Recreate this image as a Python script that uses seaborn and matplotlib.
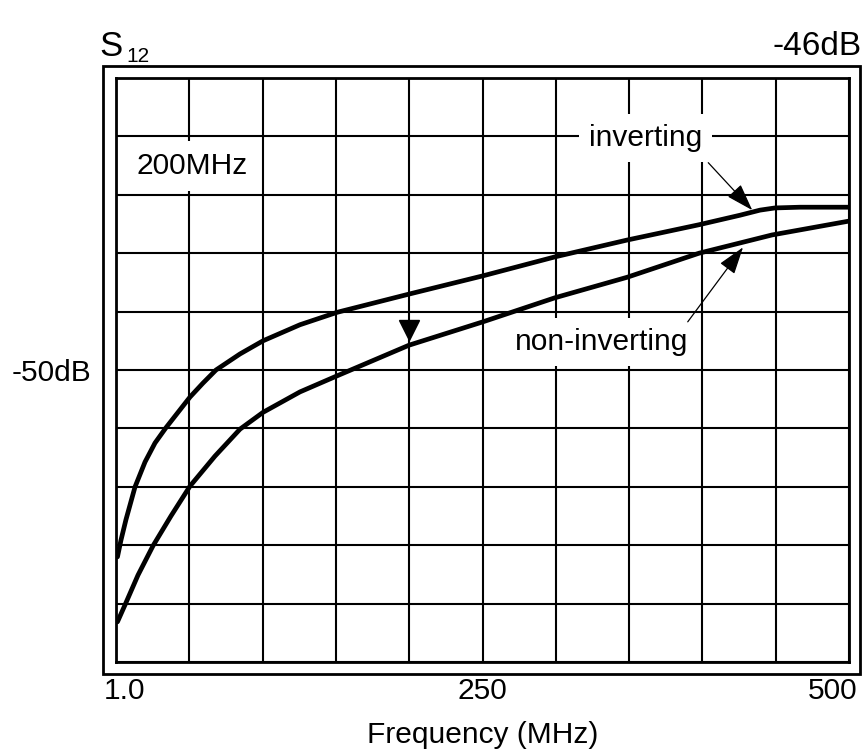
import matplotlib
matplotlib.use("Agg")
import matplotlib.pyplot as plt
import matplotlib.transforms as mtransforms
from matplotlib.patches import Rectangle
import pandas as pd
import seaborn as sns

# S12 curves (MHz, dB)
freq_inv = [1, 3.4, 6.8, 13, 19.8, 26.6, 34.1, 42.3, 50.5, 59.3, 68.2, 84.6, 100.3, 125.5,
            150.8, 199.9, 250.3, 299.5, 348.6, 397.7, 425.6, 439.3, 449.5, 466.6, 500]
s12_inv = [-52.56, -52.33, -52.05, -51.60, -51.26, -51.00, -50.79, -50.58, -50.37, -50.18,
           -50.00, -49.78, -49.60, -49.38, -49.21, -48.96, -48.71, -48.45, -48.22, -48.01,
           -47.88, -47.81, -47.78, -47.77, -47.77]

freq_non = [1, 6.1, 15, 25.2, 37.5, 50.5, 67.5, 84.6, 100.3, 125.5, 150.8, 199.9, 250.3,
            299.5, 348.6, 397.7, 447.5, 500]
s12_non = [-53.45, -53.22, -52.81, -52.41, -52.00, -51.59, -51.18, -50.81, -50.58, -50.30,
           -50.08, -49.66, -49.34, -49.01, -48.73, -48.40, -48.15, -47.96]

# 200 MHz marker on the non-inverting curve
marker_freq = [200]
marker_level = [-49.45]

freq_ticks = [0, 50, 100, 150, 200, 250, 300, 350, 400, 450, 500]
freq_labels = {0: "1.0", 250: "250", 500: "500"}
level_ticks = [-54.0, -53.2, -52.4, -51.6, -50.8, -50.0, -49.2, -48.4, -47.6, -46.8, -46.0]

sns.set_style("white")
plt.rcParams["font.family"] = ["Liberation Sans", "DejaVu Sans"]
plt.rcParams["text.color"] = "black"
plt.rcParams["xtick.color"] = "black"
plt.rcParams["ytick.color"] = "black"
plt.rcParams["axes.labelcolor"] = "black"

fig = plt.figure(figsize=(8.65, 7.55), dpi=100)
ax = fig.add_axes([116 / 865, 1 - 662 / 755, 733 / 865, 584 / 755])

df = pd.concat([
    pd.DataFrame({"freq": freq_inv, "s12": s12_inv, "mode": "inverting"}),
    pd.DataFrame({"freq": freq_non, "s12": s12_non, "mode": "non-inverting"}),
])
sns.lineplot(data=df, x="freq", y="s12", hue="mode", palette=["black", "black"],
             estimator=None, linewidth=3.4, legend=False, ax=ax)
for ln in ax.get_lines():
    ln.set_solid_joinstyle("round")
ax.plot(marker_freq, marker_level, marker="v", color="black", ms=14, ls="none", zorder=4)

ax.set_xlim(0, 500)
ax.set_ylim(-54, -46)
ax.set_xticks(freq_ticks, [freq_labels.get(t, "") for t in freq_ticks])
ax.set_yticks(level_ticks, ["-50dB" if abs(v + 50) < 1e-6 else "" for v in level_ticks])
ax.tick_params(axis="both", length=0, labelsize=21.5)
ax.tick_params(axis="x", pad=11)
ax.tick_params(axis="y", pad=18)
ax.grid(True, color="black", linewidth=1.5)
ax.set_axisbelow(True)
for s in ax.spines.values():
    s.set_color("black")
    s.set_linewidth(2)
ax.set_xlabel("Frequency (MHz)", fontsize=21.5, labelpad=11)
ax.set_ylabel("")

# nudge the end labels inwards like the original
shifts = {0: 9, 500: -16}
for t, lab in zip(freq_ticks, ax.get_xticklabels()):
    if t in shifts:
        off = mtransforms.ScaledTranslation(shifts[t] / 100, 0, fig.dpi_scale_trans)
        lab.set_transform(lab.get_transform() + off)

box = dict(facecolor="white", edgecolor="none", pad=7)
ax.text(361, -46.82, "inverting", ha="center", va="center", fontsize=21.5, bbox=box, zorder=5)
ax.text(331.5, -49.62, "non-inverting", ha="center", va="center", fontsize=21.5, bbox=box, zorder=5)
ax.text(52, -47.21, "200MHz", ha="center", va="center", fontsize=21.5,
        bbox=dict(facecolor="white", edgecolor="none", pad=8), zorder=5)

arrow = dict(arrowstyle="-|>,head_length=0.85,head_width=0.28", color="black",
             lw=0.9, mutation_scale=20, shrinkA=0, shrinkB=0)
ax.annotate("", xy=(434, -47.81), xytext=(404, -47.16), arrowprops=arrow, zorder=6)
ax.annotate("", xy=(427.7, -48.32), xytext=(390, -49.34), arrowprops=arrow, zorder=6)

# outer frame and header texts
fig.add_artist(Rectangle((103 / 865, 1 - 674 / 755), 757 / 865, 608 / 755,
                         transform=fig.transFigure, fill=False, lw=2, ec="black"))
fig.text(862 / 865, 1 - 55 / 755, "-46dB", ha="right", va="baseline", fontsize=24)
fig.text(99 / 865, 1 - 56 / 755, "S", ha="left", va="baseline", fontsize=25)
fig.text(126 / 865, 1 - 62 / 755, "12", ha="left", va="baseline", fontsize=15)

fig.savefig("out.png", dpi=100)
